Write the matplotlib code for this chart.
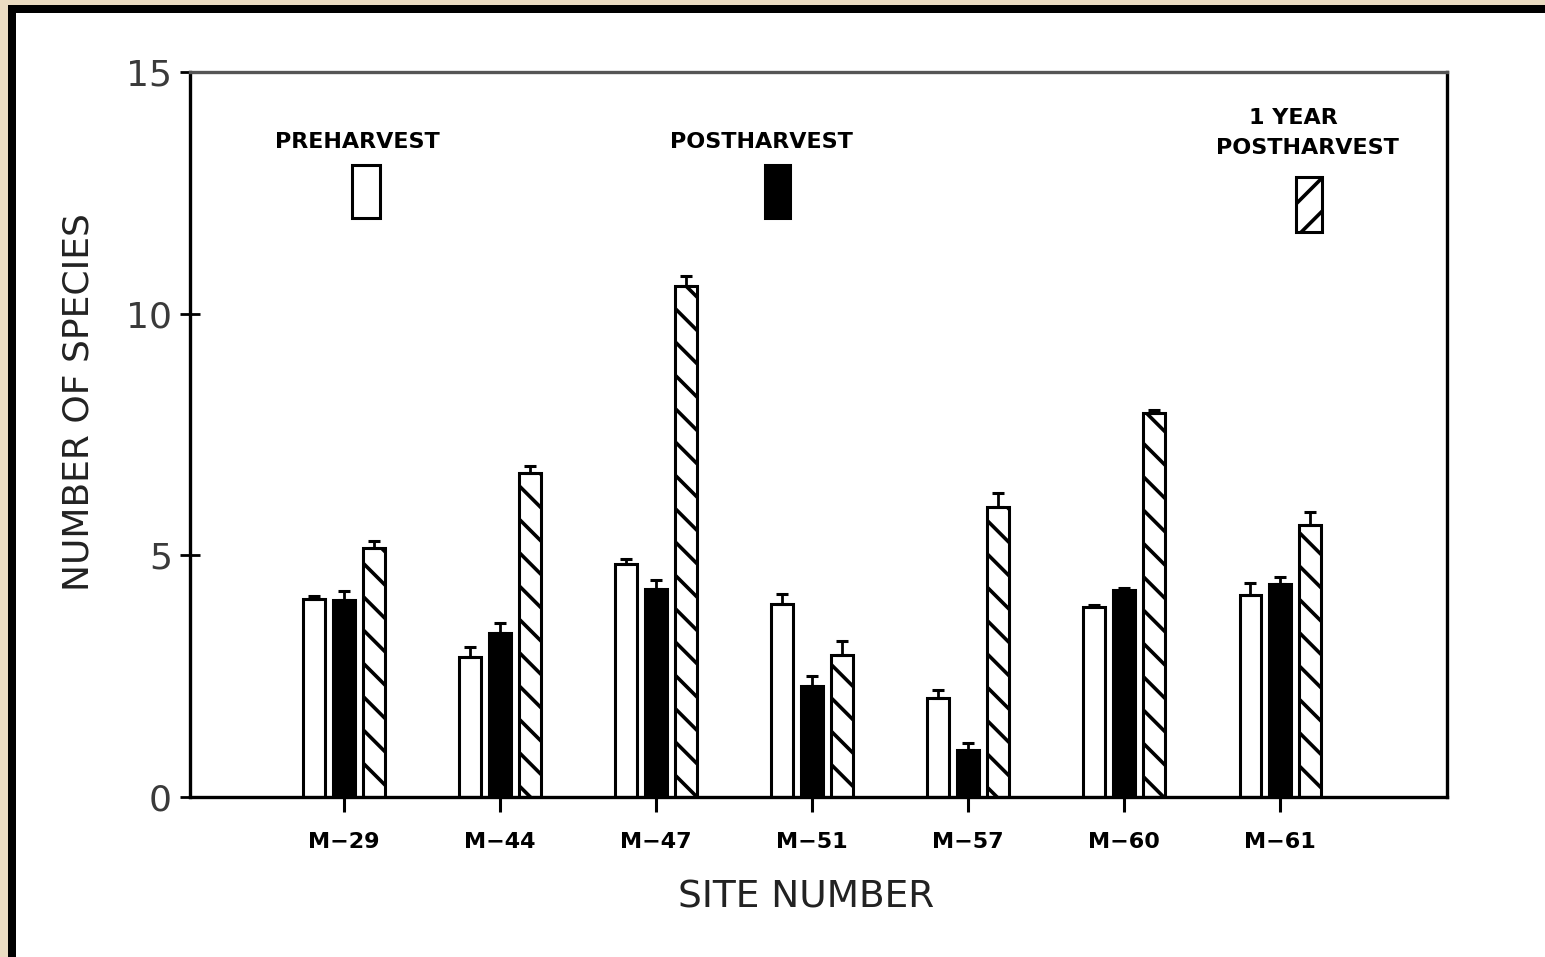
import numpy as np
import matplotlib
matplotlib.use("Agg")
import matplotlib.pyplot as plt
from matplotlib.patches import Rectangle

sites = ["M\u221229", "M\u221244", "M\u221247", "M\u221251", "M\u221257", "M\u221260", "M\u221261"]
pre = [4.1, 2.9, 4.83, 4.0, 2.05, 3.93, 4.17]
pre_err = [0.05, 0.2, 0.1, 0.2, 0.17, 0.05, 0.25]
post = [4.07, 3.4, 4.3, 2.3, 0.97, 4.28, 4.4]
post_err = [0.2, 0.2, 0.2, 0.2, 0.15, 0.05, 0.15]
year1 = [5.15, 6.7, 10.58, 2.93, 6.0, 7.95, 5.62]
year1_err = [0.15, 0.15, 0.2, 0.3, 0.3, 0.05, 0.27]
yticks = [0, 5, 10, 15]

plt.rcParams['hatch.linewidth'] = 2.6
plt.rcParams['font.family'] = ['DejaVu Sans']

W, H = 1545, 957
fig = plt.figure(figsize=(W / 100, H / 100), dpi=100)
fig.patch.set_facecolor('white')

# frame (tan + black strips on top and left)
tan = '#ebdcc2'
def px_rect(x0, y0, x1, y1, color):
    fig.add_artist(Rectangle((x0 / W, 1 - y1 / H), (x1 - x0) / W, (y1 - y0) / H,
                             transform=fig.transFigure, facecolor=color,
                             edgecolor='none', zorder=10))
px_rect(0, 0, W, 5, tan)
px_rect(0, 0, 8, H, tan)
px_rect(8, 5, W, 13, 'black')
px_rect(8, 5, 16, H, 'black')

ax = fig.add_axes([190 / W, 1 - 797 / H, (1447 - 190) / W, (797 - 72) / H])

x = np.arange(1, len(sites) + 1)
bw = 0.14
off = 0.19
ekw = dict(ecolor='black', elinewidth=2.0, capsize=4.5, capthick=2.2)

ax.bar(x - off, pre, bw, facecolor='white', edgecolor='black', linewidth=2.2,
       yerr=[np.zeros(len(pre)), pre_err], error_kw=ekw, zorder=2)
ax.bar(x, post, bw, facecolor='black', edgecolor='black', linewidth=2.2,
       yerr=[np.zeros(len(post)), post_err], error_kw=ekw, zorder=2)
ax.bar(x + off, year1, bw, facecolor='white', edgecolor='black', linewidth=2.2,
       hatch='\\', yerr=[np.zeros(len(year1)), year1_err], error_kw=ekw, zorder=2)

ax.set_xlim(0.013, 8.07)
ax.set_ylim(0, 15)
ax.set_yticks(yticks)
ax.set_yticklabels([str(v) for v in yticks], fontsize=26, color='#3a3a3a')
ax.set_xticks(x)
ax.set_xticklabels(sites, fontsize=16, fontweight='bold')
ax.tick_params(axis='y', direction='inout', length=14, width=2, pad=6)
ax.tick_params(axis='x', direction='out', length=11, width=2.2, pad=14)

for s in ax.spines.values():
    s.set_linewidth(2.4)
ax.spines['top'].set_color('#555555')

ax.set_xlabel("SITE NUMBER", fontsize=27, color='#222222', va='center')
ax.xaxis.set_label_coords(0.49, -0.139)
ax.set_ylabel("NUMBER OF SPECIES", fontsize=26, color='#222222', va='center')
ax.yaxis.set_label_coords(-0.089, 0.545)

# legend
tkw = dict(transform=ax.transAxes, ha='center', va='center', fontsize=16,
           fontweight='bold')
ax.text(0.133, 0.903, "PREHARVEST", **tkw)
ax.text(0.455, 0.903, "POSTHARVEST", **tkw)
ax.text(0.8775, 0.9366, "1 YEAR", **tkw)
ax.text(0.889, 0.895, "POSTHARVEST", **tkw)

ax.add_patch(Rectangle((0.129, 0.7986), 0.0223, 0.073, transform=ax.transAxes,
                       facecolor='white', edgecolor='black', linewidth=2.2))
ax.add_patch(Rectangle((0.4574, 0.7986), 0.0200, 0.073, transform=ax.transAxes,
                       facecolor='black', edgecolor='black', linewidth=2.2))
ax.add_patch(Rectangle((0.880, 0.779), 0.0206, 0.076, transform=ax.transAxes,
                       facecolor='white', edgecolor='black', linewidth=2.2,
                       hatch='/'))

fig.savefig("out.png", dpi=100)
